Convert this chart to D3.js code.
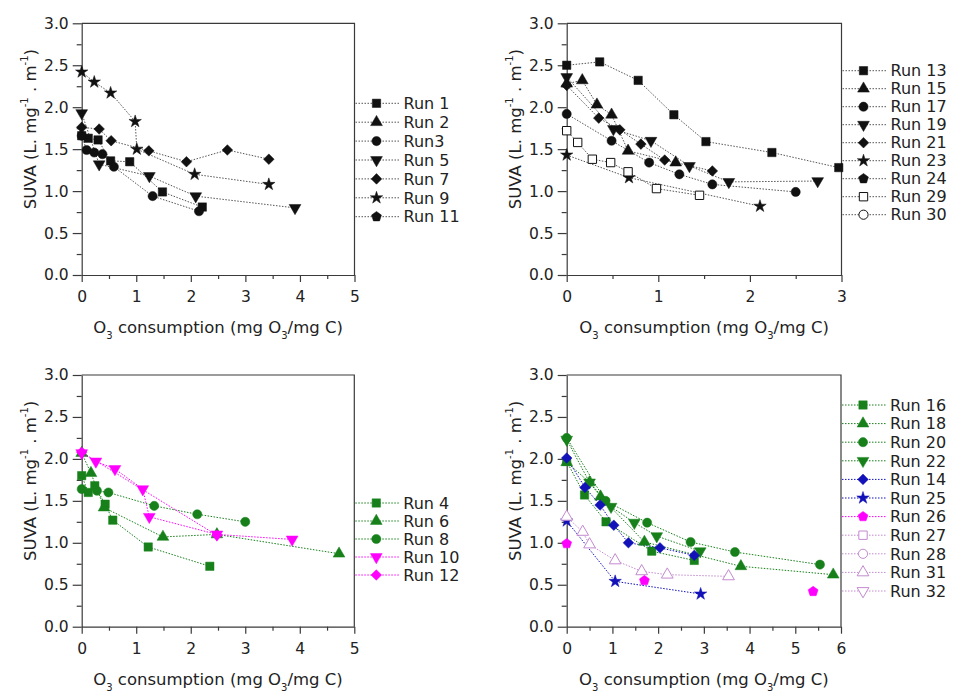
<!DOCTYPE html>
<html>
<head>
<meta charset="utf-8">
<script src="https://cdn.jsdelivr.net/npm/d3@7"></script>
<style>
  body { margin: 0; background: #fff; }
  svg { display: block; font-family: "DejaVu Sans", sans-serif; }
</style>
</head>
<body>
<svg id="chart" width="957" height="695"></svg>
<script>
// ---- data ----
// top left
const runsA = ["Run 1", "Run 2", "Run3", "Run 5", "Run 7", "Run 9", "Run 11"];
const valuesA = [
  [[0, 1.66], [0.12, 1.63], [0.30, 1.61], [0.53, 1.36], [0.88, 1.35], [1.48, 0.99], [2.21, 0.81]],
  [],
  [[0, 1.66], [0.09, 1.49], [0.23, 1.46], [0.38, 1.44], [0.59, 1.29], [1.30, 0.94], [2.15, 0.76]],
  [[0, 1.93], [0.32, 1.32], [1.24, 1.18], [2.09, 0.94], [3.91, 0.80]],
  [[0, 1.76], [0.32, 1.74], [0.54, 1.60], [1.23, 1.48], [1.92, 1.35], [2.67, 1.49], [3.43, 1.38]],
  [[0, 2.42], [0.23, 2.30], [0.53, 2.17], [0.98, 1.83], [1.01, 1.50], [2.07, 1.20], [3.43, 1.08]],
  []
];
// top right
const runsB = ["Run 13", "Run 15", "Run 17", "Run 19", "Run 21", "Run 23", "Run 24", "Run 29", "Run 30"];
const valuesB = [
  [[0, 2.50], [0.36, 2.54], [0.78, 2.32], [1.17, 1.91], [1.52, 1.59], [2.24, 1.46], [2.97, 1.28]],
  [[0, 2.28], [0.17, 2.32], [0.33, 2.03], [0.49, 1.91], [0.67, 1.48], [1.19, 1.34]],
  [[0, 1.92], [0.49, 1.60], [0.90, 1.34], [1.23, 1.20], [1.59, 1.08], [2.50, 0.99]],
  [[0, 2.36], [0.51, 1.74], [0.92, 1.60], [1.34, 1.30], [1.77, 1.11], [2.74, 1.12]],
  [[0, 2.26], [0.35, 1.87], [0.58, 1.73], [0.81, 1.56], [1.07, 1.37], [1.59, 1.24]],
  [[0, 1.43], [0.68, 1.16], [2.11, 0.82]],
  [],
  [[0, 1.72], [0.12, 1.58], [0.28, 1.38], [0.48, 1.34], [0.67, 1.23], [0.98, 1.03], [1.45, 0.95]],
  []
];
// bottom left
const runsC = ["Run 4", "Run 6", "Run 8", "Run 10", "Run 12"];
const valuesC = [
  [[0, 1.80], [0.12, 1.60], [0.24, 1.68], [0.43, 1.46], [0.57, 1.27], [1.22, 0.95], [2.35, 0.72]],
  [[0, 2.07], [0.17, 1.83], [0.41, 1.42], [1.49, 1.07], [2.48, 1.10], [4.72, 0.87]],
  [[0, 1.64], [0.28, 1.62], [0.49, 1.60], [1.33, 1.44], [2.12, 1.34], [3.00, 1.25]],
  [[0, 2.07], [0.26, 1.97], [0.61, 1.88], [1.12, 1.64], [1.24, 1.31], [2.48, 1.10], [3.86, 1.04]],
  [[0, 2.08], [2.48, 1.09]]
];
// bottom right
const runsD = ["Run 16", "Run 18", "Run 20", "Run 22", "Run 14", "Run 25", "Run 26", "Run 27", "Run 28", "Run 31", "Run 32"];
const valuesD = [
  [[0, 1.97], [0.39, 1.57], [0.86, 1.25], [1.86, 0.90], [2.79, 0.79]],
  [[0, 1.96], [0.50, 1.72], [0.74, 1.55], [1.70, 1.01], [3.81, 0.72], [5.83, 0.62]],
  [[0, 2.25], [0.85, 1.50], [1.76, 1.24], [2.71, 1.01], [3.68, 0.89], [5.54, 0.74]],
  [[0, 2.23], [0.50, 1.72], [0.97, 1.43], [1.48, 1.24], [1.97, 1.08], [2.92, 0.90]],
  [[0, 2.01], [0.40, 1.66], [0.73, 1.45], [1.03, 1.21], [1.35, 1.00], [2.04, 0.94], [2.79, 0.85]],
  [[0, 1.26], [1.06, 0.54], [2.93, 0.39]],
  [[0, 0.99], [1.70, 0.55], [5.39, 0.42]],
  [],
  [],
  [[0, 1.31], [0.35, 1.13], [0.50, 0.98], [1.06, 0.79], [1.64, 0.66], [2.20, 0.62], [3.54, 0.60]],
  []
];
const xTicksA = [0, 1, 2, 3, 4, 5];
const xTicksB = [0, 1, 2, 3];
const xTicksD = [0, 1, 2, 3, 4, 5, 6];
const yTicks = [0, 0.5, 1.0, 1.5, 2.0, 2.5, 3.0];

// ---- marker styles: [shape, colour, open, no connecting line] ----
const black = "#111", green = "#17801a", blue = "#1212b8", pink = "#ff00ff", lilac = "#c48ad0";
const marksA = [["square", black], ["triangle", black], ["circle", black], ["down", black],
  ["diamond", black], ["star", black], ["pentagon", black]];
const marksB = [["square", black], ["triangle", black], ["circle", black], ["down", black],
  ["diamond", black], ["star", black], ["pentagon", black], ["square", black, true], ["circle", black, true]];
const marksC = [["square", green], ["triangle", green], ["circle", green], ["down", pink], ["diamond", pink]];
const marksD = [["square", green], ["triangle", green], ["circle", green], ["down", green],
  ["diamond", blue], ["star", blue], ["pentagon", pink, false, true], ["square", lilac, true], ["circle", lilac, true],
  ["triangle", lilac, true], ["down", lilac, true]];

const panels = [
  { runs: runsA, values: valuesA, marks: marksA, xTicks: xTicksA, left: 81.7, top: 23.3, right: 354.5, bottom: 275, legY: 103.3, legStep: 18.9 },
  { runs: runsB, values: valuesB, marks: marksB, xTicks: xTicksB, left: 566.7, top: 23.3, right: 841.5, bottom: 275, legY: 70.7, legStep: 18 },
  { runs: runsC, values: valuesC, marks: marksC, xTicks: xTicksA, left: 81.7, top: 375, right: 354.3, bottom: 626.7, legY: 503, legStep: 18 },
  { runs: runsD, values: valuesD, marks: marksD, xTicks: xTicksD, left: 566.7, top: 375, right: 841, bottom: 626.7, legY: 405, legStep: 18.6 }
];

const svg = d3.select("#chart");
const axisColor = "#3a3a3a";

function symbolPath(shape) {
  if (shape === "square") return d3.symbol(d3.symbolSquare, 70)();
  if (shape === "circle") return d3.symbol(d3.symbolCircle, 66)();
  if (shape === "triangle" || shape === "down") return d3.symbol(d3.symbolTriangle, 60)();
  if (shape === "diamond") return d3.symbol(d3.symbolSquare, 56)();
  if (shape === "star") return d3.symbol(d3.symbolStar, 48)();
  // pentagon
  const pts = d3.range(5).map(k => {
    const a = -Math.PI / 2 + k * 2 * Math.PI / 5;
    return [5.2 * Math.cos(a), 5.2 * Math.sin(a)];
  });
  return "M" + pts.join("L") + "Z";
}
function symbolRotate(shape) {
  if (shape === "down") return " rotate(180)";
  if (shape === "diamond") return " rotate(45)";
  return "";
}

function drawMarker(g, m, cx, cy) {
  const [shape, color, open] = m;
  g.append("path")
    .attr("d", symbolPath(shape))
    .attr("transform", `translate(${cx},${cy})` + symbolRotate(shape))
    .attr("fill", open ? "#fff" : color)
    .attr("stroke", color)
    .attr("stroke-width", open ? 1 : 0.5);
}

function lineColor(m) { return m[1] === black ? "#555" : m[1]; }

panels.forEach(p => {
  const xMax = p.xTicks[p.xTicks.length - 1];
  const x = d3.scaleLinear().domain([0, xMax]).range([p.left, p.right]);
  const y = d3.scaleLinear().domain([0, 3]).range([p.bottom, p.top]);
  const g = svg.append("g");

  // frame top / right
  g.append("path")
    .attr("d", `M${p.left},${p.top}H${p.right}V${p.bottom}`)
    .attr("fill", "none").attr("stroke", axisColor).attr("stroke-width", 1.2);

  // minor ticks
  const xMinor = d3.range(0.5, xMax, 1);
  const yMinor = d3.range(0.25, 3, 0.5);
  g.append("g").attr("transform", `translate(0,${p.bottom})`)
    .call(d3.axisBottom(x).tickValues(xMinor).tickSize(4).tickSizeOuter(0).tickFormat(""))
    .call(a => a.select(".domain").remove())
    .call(a => a.selectAll("line").attr("stroke", axisColor).attr("stroke-width", 1.2));
  g.append("g").attr("transform", `translate(${p.left},0)`)
    .call(d3.axisLeft(y).tickValues(yMinor).tickSize(5).tickSizeOuter(0).tickFormat(""))
    .call(a => a.select(".domain").remove())
    .call(a => a.selectAll("line").attr("stroke", axisColor).attr("stroke-width", 1.2));

  // major axes
  g.append("g").attr("transform", `translate(0,${p.bottom})`)
    .call(d3.axisBottom(x).tickValues(p.xTicks).tickSize(7).tickSizeOuter(0).tickPadding(9).tickFormat(d3.format("d")))
    .call(a => a.select(".domain").attr("stroke", axisColor).attr("stroke-width", 1.2))
    .call(a => a.selectAll("line").attr("stroke", axisColor).attr("stroke-width", 1.2))
    .call(a => a.selectAll("text").attr("font-size", 15.5).attr("fill", "#222")
      .attr("font-family", "DejaVu Sans, sans-serif"));
  g.append("g").attr("transform", `translate(${p.left},0)`)
    .call(d3.axisLeft(y).tickValues(yTicks).tickSize(9).tickSizeOuter(0).tickPadding(4).tickFormat(d3.format(".1f")))
    .call(a => a.select(".domain").attr("stroke", axisColor).attr("stroke-width", 1.2))
    .call(a => a.selectAll("line").attr("stroke", axisColor).attr("stroke-width", 1.2))
    .call(a => a.selectAll("text").attr("font-size", 15.5).attr("fill", "#222")
      .attr("font-family", "DejaVu Sans, sans-serif"));

  // axis titles
  const xt = g.append("text")
    .attr("x", (p.left + p.right) / 2).attr("y", p.bottom + 58)
    .attr("text-anchor", "middle").attr("font-size", 16.5).attr("fill", "#222");
  xt.append("tspan").text("O");
  xt.append("tspan").attr("font-size", 10).attr("dy", 6).text("3");
  xt.append("tspan").attr("dy", -6).text(" consumption (mg O");
  xt.append("tspan").attr("font-size", 10).attr("dy", 6).text("3");
  xt.append("tspan").attr("dy", -6).text("/mg C)");

  const yt = g.append("text")
    .attr("transform", `translate(${p.left - 46},${(p.top + p.bottom) / 2 - 20}) rotate(-90)`)
    .attr("text-anchor", "middle").attr("font-size", 16.5).attr("fill", "#222");
  yt.append("tspan").text("SUVA (L.  mg");
  yt.append("tspan").attr("font-size", 10).attr("dy", -8).text("-1");
  yt.append("tspan").attr("dy", 8).text(" .  m");
  yt.append("tspan").attr("font-size", 10).attr("dy", -8).text("-1");
  yt.append("tspan").attr("dy", 8).text(")");

  // series lines and markers
  const line = d3.line().x(d => x(d[0])).y(d => y(d[1]));
  p.values.forEach((vals, i) => {
    if (vals.length > 1 && !p.marks[i][3]) {
      g.append("path").attr("d", line(vals))
        .attr("fill", "none").attr("stroke", lineColor(p.marks[i]))
        .attr("stroke-width", 1).attr("stroke-dasharray", "1.5,1.5");
    }
  });
  p.values.forEach((vals, i) => {
    vals.forEach(d => drawMarker(g, p.marks[i], x(d[0]), y(d[1])));
  });

  // legend
  p.runs.forEach((name, i) => {
    const ly = p.legY + i * p.legStep;
    const lx = p.right + 1;
    g.append("line").attr("x1", lx).attr("x2", lx + 44).attr("y1", ly).attr("y2", ly)
      .attr("stroke", lineColor(p.marks[i])).attr("stroke-width", 1).attr("stroke-dasharray", "1.5,1.5");
    drawMarker(g, p.marks[i], lx + 21, ly);
    g.append("text").attr("x", lx + 48).attr("y", ly).attr("dy", "0.36em")
      .attr("font-size", 16).attr("fill", "#222").text(name);
  });
});
</script>
</body>
</html>
